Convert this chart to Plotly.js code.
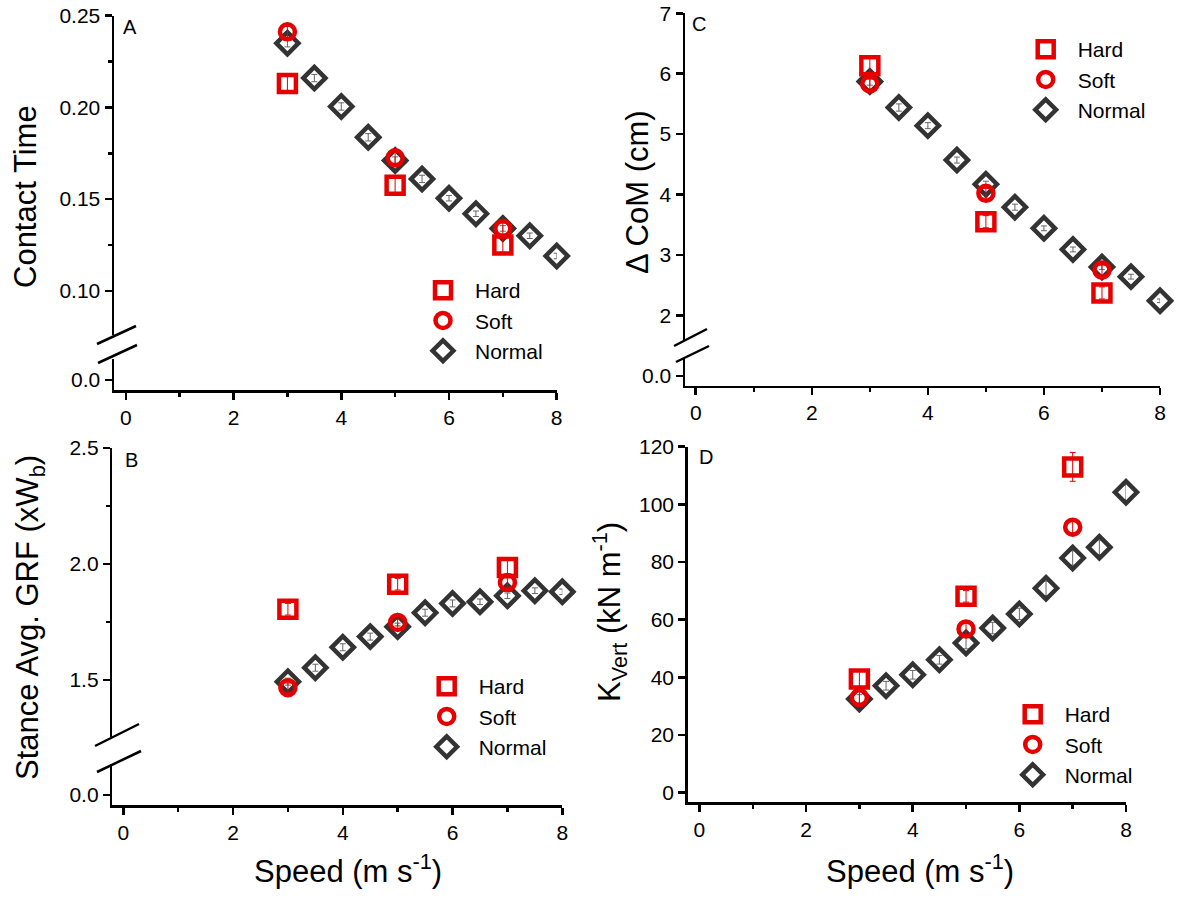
<!DOCTYPE html>
<html>
<head>
<meta charset="utf-8">
<script src="https://cdn.plot.ly/plotly-3.0.1.min.js"></script>
<style>html,body{margin:0;padding:0;background:#fff;}#chart{width:1180px;height:899px;}</style>
</head>
<body>
<div id="chart"></div>
<script>
// ---------------- DATA ----------------
const speedNormal = [3, 3.5, 4, 4.5, 5, 5.5, 6, 6.5, 7, 7.5, 8];
const speedSurface = [3, 5, 7];
const seriesNames = ["Hard", "Soft", "Normal"];
const xTickVals = [0, 2, 4, 6, 8];

// Panel A: Contact Time
const contactHard = [0.213, 0.1575, 0.125];
const contactHardErr = [0.004, 0.005, 0.004];
const contactSoft = [0.2412, 0.1725, 0.134];
const contactSoftErr = [0.003, 0.003, 0.003];
const contactNormal = [0.235, 0.216, 0.2005, 0.1837, 0.171, 0.161, 0.1505, 0.142, 0.134, 0.130, 0.119];
const contactNormalErr = [0.002, 0.002, 0.002, 0.002, 0.002, 0.002, 0.0015, 0.0015, 0.0015, 0.0015, 0.0015];

// Panel B: Stance Avg. GRF
const grfHard = [1.805, 1.913, 1.985];
const grfHardErr = [0.025, 0.025, 0.03];
const grfSoft = [1.467, 1.748, 1.92];
const grfSoftErr = [0.02, 0.015, 0.02];
const grfNormal = [1.493, 1.553, 1.641, 1.687, 1.73, 1.79, 1.83, 1.837, 1.863, 1.885, 1.88];
const grfNormalErr = [0.015, 0.015, 0.015, 0.015, 0.015, 0.015, 0.015, 0.012, 0.012, 0.012, 0.012];

// Panel C: Delta CoM
const comHard = [6.13, 3.55, 2.37];
const comHardErr = [0.15, 0.1, 0.1];
const comSoft = [5.83, 4.02, 2.75];
const comSoftErr = [0.08, 0.08, 0.08];
const comNormal = [5.87, 5.44, 5.14, 4.57, 4.17, 3.79, 3.44, 3.09, 2.80, 2.64, 2.24];
const comNormalErr = [0.06, 0.06, 0.05, 0.05, 0.05, 0.05, 0.04, 0.04, 0.04, 0.04, 0.03];

// Panel D: K_vert
const kHard = [39.4, 68.1, 113.0];
const kHardErr = [3, 2, 5];
const kSoft = [33, 56.8, 92.1];
const kSoftErr = [2, 2, 2];
const kNormal = [32.5, 37.1, 40.9, 46.1, 51.9, 57.1, 62.0, 70.9, 81.4, 85.1, 104.2];
const kNormalErr = [1.5, 1.5, 1.5, 1.5, 2, 2, 2, 2.5, 2.5, 2.5, 2.5];

// ---------------- STYLE ----------------
const W = 1180, H = 899;
const px = v => v / W;
const py = v => 1 - v / H;
const FONT = "Liberation Sans, Arial, sans-serif";
const RED = "#e60000";
const DARK = "#333333";

function markerFor(name) {
  if (name === "Hard") return {symbol: "square-open", size: 17, color: RED, line: {width: 4.5, color: RED}};
  if (name === "Soft") return {symbol: "circle-open", size: 15, color: RED, line: {width: 4.5, color: RED}};
  return {symbol: "diamond-open", size: 17, color: DARK, line: {width: 4.5, color: DARK}};
}
function errFor(name, arr) {
  return {type: "data", array: arr, visible: true, thickness: 1,
          width: 3, color: name === "Normal" ? "#666666" : RED};
}
const rank = {Hard: 1, Soft: 2, Normal: 3};
function mk(name, x, y, err, xa, ya, lg) {
  return {type: "scatter", mode: "markers", name: name, x: x, y: y,
          xaxis: xa, yaxis: ya, legend: lg, legendrank: rank[name], cliponaxis: false,
          marker: markerFor(name), error_y: errFor(name, err)};
}
// empty holder so the lower (broken) axis segment gets its own subplot
function holder(xa, ya) {
  return {type: "scatter", mode: "markers", x: [], y: [], xaxis: xa, yaxis: ya,
          showlegend: false, hoverinfo: "skip"};
}

// draw order: Normal below, red series on top
const traces = [
  holder("x", "y"), holder("x2", "y3"), holder("x3", "y5"),

  mk(seriesNames[2], speedNormal, contactNormal, contactNormalErr, "x", "y2", "legend"),
  mk(seriesNames[0], speedSurface, contactHard, contactHardErr, "x", "y2", "legend"),
  mk(seriesNames[1], speedSurface, contactSoft, contactSoftErr, "x", "y2", "legend"),

  mk(seriesNames[2], speedNormal, grfNormal, grfNormalErr, "x2", "y4", "legend2"),
  mk(seriesNames[0], speedSurface, grfHard, grfHardErr, "x2", "y4", "legend2"),
  mk(seriesNames[1], speedSurface, grfSoft, grfSoftErr, "x2", "y4", "legend2"),

  mk(seriesNames[2], speedNormal, comNormal, comNormalErr, "x3", "y6", "legend3"),
  mk(seriesNames[0], speedSurface, comHard, comHardErr, "x3", "y6", "legend3"),
  mk(seriesNames[1], speedSurface, comSoft, comSoftErr, "x3", "y6", "legend3"),

  mk(seriesNames[2], speedNormal, kNormal, kNormalErr, "x4", "y7", "legend4"),
  mk(seriesNames[0], speedSurface, kHard, kHardErr, "x4", "y7", "legend4"),
  mk(seriesNames[1], speedSurface, kSoft, kSoftErr, "x4", "y7", "legend4")
];

const axBase = {
  showline: true, linecolor: "black", linewidth: 2.5, mirror: false,
  ticks: "outside", ticklen: 7, tickwidth: 2.5, tickcolor: "black",
  showgrid: false, zeroline: false, fixedrange: true,
  tickfont: {family: FONT, size: 21, color: "black"}
};
function xAxis(domainPx, range, anchor) {
  return Object.assign({}, axBase, {
    domain: [px(domainPx[0]), px(domainPx[1])], range: range, anchor: anchor,
    tickvals: xTickVals, ticktext: xTickVals.map(String),
    minor: {dtick: 1, tick0: 0, ticks: "outside", ticklen: 4, tickwidth: 2.5, tickcolor: "black", showgrid: false}
  });
}
function yAxis(domainPx, range, anchor, extra) {
  return Object.assign({}, axBase, {
    domain: [py(domainPx[1]), py(domainPx[0])], range: range, anchor: anchor
  }, extra || {});
}

function legendAt(leftPx, topPx) {
  return {x: px(leftPx), y: py(topPx), xanchor: "left", yanchor: "top",
          bgcolor: "rgba(0,0,0,0)", borderwidth: 0, itemwidth: 54,
          traceorder: "normal", tracegroupgap: 0,
          font: {family: FONT, size: 21, color: "black"}};
}

function slash(x0, y0, x1, y1) {
  return {type: "line", xref: "paper", yref: "paper",
          x0: px(x0), y0: py(y0), x1: px(x1), y1: py(y1),
          line: {color: "black", width: 2.5}};
}
function ann(text, xPx, yPx, size, angle, anchorX) {
  return {text: text, xref: "paper", yref: "paper", x: px(xPx), y: py(yPx),
          xanchor: anchorX || "center", yanchor: "middle", showarrow: false,
          textangle: angle || 0, font: {family: FONT, size: size, color: "black"}};
}

const layout = {
  width: W, height: H, autosize: false,
  margin: {l: 0, r: 0, t: 0, b: 0},
  paper_bgcolor: "white", plot_bgcolor: "rgba(0,0,0,0)",
  font: {family: FONT, color: "black"},
  showlegend: true,

  // Panel A
  xaxis: xAxis([114, 556.7], [-0.22, 8], "y"),
  yaxis: yAxis([358.8, 390], [-0.010, 0.021], "x", {tickvals: [0], ticktext: ["0.0"]}),
  yaxis2: yAxis([15.7, 335], [0.0759, 0.25], "x", {
    tickvals: [0.10, 0.15, 0.20, 0.25], ticktext: ["0.10", "0.15", "0.20", "0.25"],
    minor: {dtick: 0.025, tick0: 0, ticks: "outside", ticklen: 4, tickwidth: 2.5, tickcolor: "black", showgrid: false}
  }),

  // Panel B
  xaxis2: xAxis([112.3, 562.3], [-0.2, 8], "y3"),
  yaxis3: yAxis([764.4, 805], [-0.10, 0.306], "x2", {tickvals: [0], ticktext: ["0.0"]}),
  yaxis4: yAxis([448, 737.4], [1.2526, 2.5], "x2", {
    tickvals: [1.5, 2.0, 2.5], ticktext: ["1.5", "2.0", "2.5"],
    minor: {dtick: 0.25, tick0: 0, ticks: "outside", ticklen: 4, tickwidth: 2.5, tickcolor: "black", showgrid: false}
  }),

  // Panel C
  xaxis3: xAxis([685, 1160], [-0.185, 8], "y5"),
  yaxis5: yAxis([357.5, 385.7], [-0.097, 0.185], "x3", {tickvals: [0], ticktext: ["0.0"]}),
  yaxis6: yAxis([13.3, 340], [1.591, 7], "x3", {
    tickvals: [2, 3, 4, 5, 6, 7], ticktext: ["2", "3", "4", "5", "6", "7"]
  }),

  // Panel D
  xaxis4: xAxis([687.7, 1126], [-0.22, 8], "y7"),
  yaxis7: yAxis([446.7, 802.3], [-3.33, 120], "x4", {
    tickvals: [0, 20, 40, 60, 80, 100, 120], ticktext: ["0", "20", "40", "60", "80", "100", "120"]
  }),

  legend: legendAt(411, 270),
  legend2: legendAt(414.7, 666),
  legend3: legendAt(1013.7, 29),
  legend4: legendAt(1000.7, 694),

  shapes: [
    slash(97, 344, 136, 326), slash(98, 363, 137, 345),
    slash(95, 746, 139, 724), slash(97, 772, 141, 751),
    slash(674, 346, 707, 329), slash(676, 362, 709, 346)
  ],

  annotations: [
    ann("A", 130, 26.5, 20),
    ann("B", 131, 460, 20),
    ann("C", 699, 24, 20),
    ann("D", 706, 457, 20),
    ann("Contact Time", 26, 197, 31, -90),
    ann("Stance Avg. GRF (xW<sub>b</sub>)", 30, 618, 31, -90),
    ann("\u0394 CoM (cm)", 637, 192, 31, -90),
    ann("K<sub>Vert</sub> (kN m<sup>-1</sup>)", 609, 612, 31, -90),
    ann("Speed (m s<sup>-1</sup>)", 348, 869, 31, 0),
    ann("Speed (m s<sup>-1</sup>)", 920, 869, 31, 0)
  ]
};

Plotly.newPlot("chart", traces, layout, {displayModeBar: false, staticPlot: true});
</script>
</body>
</html>
